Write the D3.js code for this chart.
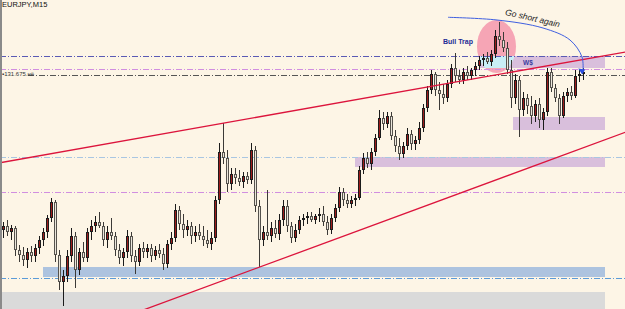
<!DOCTYPE html>
<html><head><meta charset="utf-8">
<script src="https://cdn.jsdelivr.net/npm/d3@7"></script>
<style>html,body{margin:0;padding:0;background:#fdf5e6;overflow:hidden}svg{display:block}</style>
</head><body><svg id="c" width="625" height="309"></svg>
<script>
const title = "EURJPY,M15";
const opens = [
130.11,130.15,130.09,130.13,129.91,129.86,129.81,129.89,129.85,129.93,
130.01,130.09,130.23,130.39,129.86,129.59,129.65,129.85,130.05,129.71,
129.89,129.83,130.09,130.15,130.19,130.15,130.01,130.09,130.05,129.91,
129.83,129.89,130.05,129.85,129.79,129.93,129.89,129.93,129.85,129.91,
129.87,129.77,129.97,130.03,130.31,130.17,130.11,130.15,130.05,130.09,
130.05,130.01,129.97,130.03,130.41,130.89,130.83,130.57,130.67,130.63,
130.59,130.65,130.61,130.91,130.35,130.01,130.09,130.05,130.13,130.07,
130.21,130.35,130.15,130.03,130.11,130.21,130.23,130.25,130.21,130.25,
130.27,130.19,130.11,130.23,130.33,130.49,130.41,130.37,130.41,130.43,
130.71,130.83,130.77,130.89,131.03,131.23,131.17,131.25,131.05,130.95,
130.87,130.95,131.07,130.97,131.01,131.13,131.33,131.51,131.67,131.51,
131.47,131.43,131.57,131.73,131.65,131.61,131.69,131.65,131.71,131.75,
131.81,131.83,131.79,131.87,132.05,132.01,131.93,131.71,131.43,131.61,
131.31,131.43,131.35,131.25,131.37,131.21,131.29,131.69,131.53,131.43,
131.25,131.45,131.49,131.45,131.65,131.67];
const highs = [
130.19,130.21,130.16,130.15,129.96,129.94,129.93,129.95,129.97,130.05,
130.13,130.26,130.43,130.41,129.91,129.71,129.91,130.13,130.09,129.93,
129.99,130.13,130.21,130.25,130.29,130.19,130.15,130.23,130.09,129.97,
129.93,130.11,130.09,129.91,129.97,129.99,129.97,129.97,129.95,129.97,
129.93,130.01,130.09,130.37,130.35,130.27,130.21,130.19,130.15,130.17,
130.15,130.11,130.09,130.45,130.98,131.18,130.91,130.73,130.73,130.71,
130.69,130.69,130.98,130.95,130.41,130.15,130.51,130.19,130.21,130.27,
130.41,130.41,130.19,130.17,130.25,130.27,130.29,130.29,130.27,130.33,
130.35,130.25,130.27,130.37,130.54,130.53,130.47,130.45,130.47,130.75,
130.88,130.89,130.93,131.07,131.31,131.29,131.29,131.29,131.11,131.03,
130.99,131.13,131.11,131.05,131.19,131.37,131.55,131.71,131.69,131.59,
131.57,131.61,131.77,131.88,131.71,131.73,131.75,131.73,131.79,131.85,
131.87,131.89,131.91,132.11,132.19,132.09,131.99,131.81,131.67,131.65,
131.49,131.47,131.45,131.41,131.43,131.33,131.73,131.73,131.57,131.47,
131.49,131.53,131.55,131.71,131.71,131.73];
const lows = [
130.03,130.05,130.01,129.85,129.79,129.75,129.73,129.79,129.79,129.87,
129.95,130.03,130.19,129.79,129.51,129.35,129.59,129.79,129.53,129.66,
129.79,129.79,130.01,130.09,130.13,129.95,129.93,130.01,129.85,129.77,
129.75,129.83,129.79,129.67,129.75,129.83,129.83,129.79,129.81,129.83,
129.71,129.73,129.91,129.99,130.11,130.03,130.05,129.97,129.99,130.01,
129.95,129.93,129.91,129.99,130.37,130.77,130.49,130.51,130.57,130.55,
130.53,130.57,130.57,130.29,129.74,129.95,130.01,129.99,130.03,130.01,
130.15,130.09,129.98,129.99,130.07,130.15,130.17,130.19,130.17,130.19,
130.15,130.06,130.07,130.19,130.29,130.35,130.33,130.33,130.35,130.41,
130.67,130.73,130.71,130.85,131.01,131.11,131.13,131.01,130.89,130.81,
130.83,130.91,130.91,130.91,130.97,131.09,131.29,131.47,131.45,131.31,
131.37,131.39,131.53,131.59,131.57,131.57,131.61,131.61,131.65,131.71,
131.75,131.77,131.75,131.83,131.95,131.89,131.67,131.33,131.37,131.04,
131.25,131.27,131.17,131.19,131.13,131.11,131.25,131.49,131.39,131.17,
131.23,131.39,131.41,131.43,131.59,131.61];
const closes = [
130.15,130.09,130.13,129.91,129.86,129.81,129.89,129.85,129.93,130.01,
130.09,130.23,130.39,129.86,129.59,129.65,129.85,130.05,129.71,129.89,
129.83,130.09,130.15,130.19,130.15,130.01,130.09,130.05,129.91,129.83,
129.89,130.05,129.85,129.79,129.93,129.89,129.93,129.85,129.91,129.87,
129.77,129.97,130.03,130.31,130.17,130.11,130.15,130.05,130.09,130.05,
130.01,129.97,130.03,130.41,130.89,130.83,130.57,130.67,130.63,130.59,
130.65,130.61,130.91,130.35,130.01,130.09,130.05,130.13,130.07,130.21,
130.35,130.15,130.03,130.11,130.21,130.23,130.25,130.21,130.25,130.27,
130.19,130.11,130.23,130.33,130.49,130.41,130.37,130.41,130.43,130.71,
130.83,130.77,130.89,131.03,131.23,131.17,131.25,131.05,130.95,130.87,
130.95,131.07,130.97,131.01,131.13,131.33,131.51,131.67,131.51,131.47,
131.43,131.57,131.73,131.65,131.61,131.69,131.65,131.71,131.75,131.81,
131.83,131.79,131.87,132.05,132.01,131.93,131.71,131.43,131.61,131.31,
131.43,131.35,131.25,131.37,131.21,131.29,131.69,131.53,131.43,131.25,
131.45,131.49,131.45,131.65,131.67,131.69];

// horizontal levels (price)
const levels = [131.845, 131.725, 131.665, 130.835, 130.485, 129.635];
const levelStartIdx = [-1, -1, 6.25, -1, -1, -1];
const levelLabel = "\u25AA131.675.нё";
// zones: start bar index, end bar index, top price, bottom price
const zoneStart = [10, -1, 88, 127.5, 119.25];
const zoneEnd = [150.5, 150.5, 150.5, 150.5, 150.5];
const zoneTop = [129.74, 129.49, 130.84, 131.24, 131.85];
const zoneBottom = [129.64, 129.10, 130.74, 131.11, 131.73];
// trendlines: [index, price] pairs
const trendUpper = [[-1, 130.781], [156, 131.893]];
const trendLower = [[34.25, 129.298], [156, 131.094]];
// ellipse (bull trap)
const ellipseCenter = [123.375, 131.945];
const ellipseRadius = [4.875, 0.265];
// arrow path points [index, price]
const arrowPts = [[111.25, 132.237], [123.5, 132.21], [135, 132.13], [141.75, 132.01], [144.75, 131.84], [145, 131.70]];
const arrowTip = [144.8, 131.665];
const notes = ["Bull Trap", "W$", "Go short again"];
const notePos = [[113.75, 131.975], [130, 131.765], [132.25, 132.20]];

const W = 625, H = 309;
const svg = d3.select("#c");
const x = d3.scaleLinear().domain([0, 145]).range([3, 583]);
const y = d3.scaleLinear().domain([129.32, 132.41]).range([H, 0]);

svg.append("rect").attr("width", W).attr("height", H).attr("fill", "#fdf5e6");
const defs = svg.append("defs");
defs.append("clipPath").attr("id", "ell").append("ellipse")
  .attr("cx", x(ellipseCenter[0])).attr("cy", y(ellipseCenter[1]))
  .attr("rx", x(ellipseRadius[0]) - x(0)).attr("ry", y(0) - y(ellipseRadius[1]) ) ;

// zones
const zoneColors = ["#adc3df", "#dadada", "#d9bfdc", "#d9bfdc", "#d9bfdc"];
zoneTop.forEach((t, i) => {
  svg.append("rect").attr("x", Math.max(0, x(zoneStart[i]))).attr("y", y(t))
    .attr("width", x(zoneEnd[i]) - Math.max(0, x(zoneStart[i]))).attr("height", y(zoneBottom[i]) - y(t))
    .attr("fill", zoneColors[i]);
});
// ellipse
svg.append("ellipse").attr("cx", x(ellipseCenter[0])).attr("cy", y(ellipseCenter[1]))
  .attr("rx", x(ellipseRadius[0]) - x(0)).attr("ry", y(0) - y(ellipseRadius[1]))
  .attr("fill", "#f6a5b5");
// overlap of W$ box and ellipse
svg.append("rect").attr("clip-path", "url(#ell)")
  .attr("x", x(zoneStart[4])).attr("y", y(zoneTop[4]))
  .attr("width", x(zoneEnd[4]) - x(zoneStart[4])).attr("height", y(zoneBottom[4]) - y(zoneTop[4]))
  .attr("fill", "#c9eef6");

// levels
const levelColors = ["#5a5ab4", "#d18ee0", "#555555", "#a9c6e2", "#d18ee0", "#5b9bd8"];
levels.forEach((p, i) => {
  svg.append("line").attr("x1", Math.max(0, x(levelStartIdx[i]))).attr("x2", W)
    .attr("y1", Math.round(y(p)) + 0.5).attr("y2", Math.round(y(p)) + 0.5)
    .attr("stroke", levelColors[i]).attr("stroke-width", 1)
    .attr("stroke-dasharray", "6,2,1,2");
});

// candles
const g = svg.append("g").attr("shape-rendering", "crispEdges");
closes.forEach((c, i) => {
  const cx = Math.round(x(i));
  const o = opens[i], up = c >= o;
  g.append("line").attr("x1", cx + 0.5).attr("x2", cx + 0.5)
    .attr("y1", y(highs[i])).attr("y2", y(lows[i]))
    .attr("stroke", up ? "#1b1b1b" : "#3c3a37").attr("stroke-width", 1);
  const top = Math.round(y(Math.max(o, c))), bot = Math.round(y(Math.min(o, c)));
  g.append("rect").attr("x", cx - 0.5).attr("y", top + 0.5)
    .attr("width", 2).attr("height", Math.max(1, bot - top - 1))
    .attr("fill", up ? "#9e1c1c" : "#ebe6dc")
    .attr("stroke", up ? "#1b1b1b" : "#55524d").attr("stroke-width", 1);
});

// trendlines
[trendUpper, trendLower].forEach(t => {
  svg.append("line").attr("x1", x(t[0][0])).attr("y1", y(t[0][1]))
    .attr("x2", x(t[1][0])).attr("y2", y(t[1][1]))
    .attr("stroke", "#dc143c").attr("stroke-width", 1.3);
});

// arrow
const line = d3.line().x(d => x(d[0])).y(d => y(d[1])).curve(d3.curveCatmullRom);
svg.append("path").attr("d", line(arrowPts)).attr("fill", "none")
  .attr("stroke", "#3f5fe0").attr("stroke-width", 1);
const tx = x(arrowTip[0]), ty = y(arrowTip[1]);
svg.append("path").attr("d", `M${tx},${ty} L${tx - 4},${ty - 6} L${tx + 3},${ty - 5} Z`)
  .attr("fill", "#2d4fe0");

// texts
svg.append("text").attr("x", 2).attr("y", 7).text(title)
  .attr("font-family", "Liberation Sans, Arial, sans-serif").attr("font-size", 7.5).attr("fill", "#111");
svg.append("text").attr("x", 2).attr("y", 75.5).text(levelLabel)
  .attr("font-family", "Liberation Sans, Arial, sans-serif").attr("font-size", 6).attr("fill", "#333");
svg.append("text").attr("x", x(notePos[0][0])).attr("y", y(notePos[0][1])).text(notes[0])
  .attr("text-anchor", "middle").attr("font-family", "Liberation Sans, Arial, sans-serif")
  .attr("font-size", 7).attr("font-weight", "bold").attr("fill", "#1d2b95");
svg.append("text").attr("x", x(notePos[1][0])).attr("y", y(notePos[1][1])).text(notes[1])
  .attr("font-family", "Liberation Sans, Arial, sans-serif")
  .attr("font-size", 6.5).attr("font-weight", "bold").attr("fill", "#3b3b9e");
const gx = x(notePos[2][0]), gy = y(notePos[2][1]);
svg.append("text").attr("x", gx).attr("y", gy).text(notes[2])
  .attr("text-anchor", "middle").attr("transform", `rotate(13,${gx},${gy})`)
  .attr("font-family", "Liberation Sans, Arial, sans-serif").attr("font-style", "italic")
  .attr("font-size", 8.5).attr("fill", "#222");

// left border
svg.append("rect").attr("x", 0).attr("y", 0).attr("width", 2).attr("height", H).attr("fill", "#8a8a8a");
</script></body></html>
